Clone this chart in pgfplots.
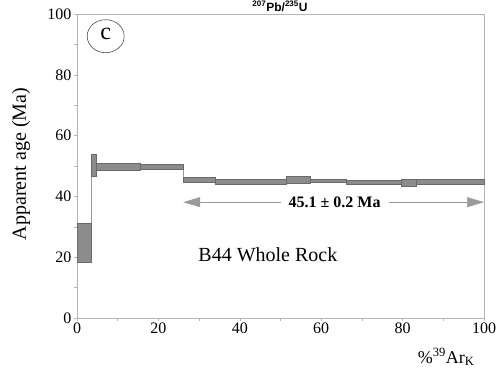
\documentclass[border=0pt]{standalone}
\usepackage{fontspec}
\setmainfont{Liberation Serif}
\newfontfamily\sansfont{Liberation Sans}
\usepackage{pgfplots}
\pgfplotsset{compat=1.18}
\usetikzlibrary{arrows.meta}
\definecolor{barfill}{HTML}{8C8C8C}
\definecolor{baredge}{HTML}{6A6A6A}
\definecolor{axgray}{HTML}{B4B4B4}
\definecolor{arrgray}{HTML}{9A9A9A}
\newcommand\agestep[4]{\addplot[fill=barfill, draw=baredge, line width=0.6pt] coordinates {(#1,#3) (#2,#3) (#2,#4) (#1,#4)} --cycle;}
\begin{document}
\begin{tikzpicture}
\useasboundingbox (-77pt,-50pt) rectangle (423pt,318pt);
\begin{axis}[
  at={(0pt,0pt)}, anchor=south west,
  width=407pt, height=304pt, scale only axis,
  xmin=0, xmax=100, ymin=0, ymax=100,
  xtick={0,20,...,100}, ytick={0,20,...,100},
  minor x tick num=1, minor y tick num=1,
  xtick pos=bottom, ytick pos=left,
  tick align=outside,
  major tick length=3pt, minor tick length=3pt,
  axis line style={axgray, line width=0.8pt},
  every tick/.style={axgray, line width=0.6pt},
  every minor tick/.style={axgray, line width=0.6pt},
  /pgf/number format/assume math mode=true,
  tick label style={font=\fontsize{16}{16}\selectfont},
  xticklabel style={yshift=1.5pt},
  yticklabel style={xshift=1pt},
  clip=false,
]
% connecting stepped line through the step midpoints
\addplot[const plot, draw=arrgray, line width=0.6pt] coordinates {
 (0,24.7) (3.4,50.25) (4.8,49.8) (15.6,49.6) (26.1,45.5) (34.1,44.8)
 (51.5,45.4) (57.4,45.1) (66.1,44.65) (79.6,44.4) (83.4,44.8) (100,44.8)};
\agestep{0}{3.4}{18.4}{31.0}
\agestep{3.4}{4.8}{46.7}{53.8}
\agestep{4.8}{15.6}{48.7}{50.9}
\agestep{15.6}{26.1}{48.8}{50.4}
\agestep{26.1}{34.1}{44.7}{46.3}
\agestep{34.1}{51.5}{44.1}{45.5}
\agestep{51.5}{57.4}{44.3}{46.5}
\agestep{57.4}{66.1}{44.5}{45.7}
\agestep{66.1}{79.6}{44.0}{45.3}
\agestep{79.6}{83.4}{43.3}{45.5}
\agestep{83.4}{100}{44.0}{45.6}
\draw[arrgray, line width=0.6pt, {Triangle[length=17pt,width=10pt]}-{Triangle[length=17pt,width=10pt]}]
  (axis cs:26.1,38.1) -- (axis cs:100,38.1);
\node[fill=white, inner xsep=8pt, font=\fontsize{16}{16}\selectfont\bfseries] at (axis cs:63.3,38.1) {45.1 ± 0.2 Ma};
\node[font=\fontsize{20}{20}\selectfont] at (axis cs:46.9,20.7) {B44 Whole Rock};
\draw[black!70, line width=0.6pt] (axis cs:7.05,92.7) ellipse [x radius=18.5pt, y radius=16.5pt];
\node[font=\fontsize{24}{24}\selectfont] at (axis cs:7.05,93.5) {c};
\end{axis}
\node[rotate=90, font=\fontsize{20}{20}\selectfont] at (-56pt,154pt) {Apparent age (Ma)};
\node[anchor=east, font=\fontsize{18}{18}\selectfont] at (401pt,-39pt) {\%\textsuperscript{39}Ar\textsubscript{K}};
\node[anchor=base, font=\sansfont\bfseries\fontsize{12}{12}\selectfont] at (203pt,307pt) {\textsuperscript{207}Pb/\textsuperscript{235}U};
\end{tikzpicture}
\end{document}
